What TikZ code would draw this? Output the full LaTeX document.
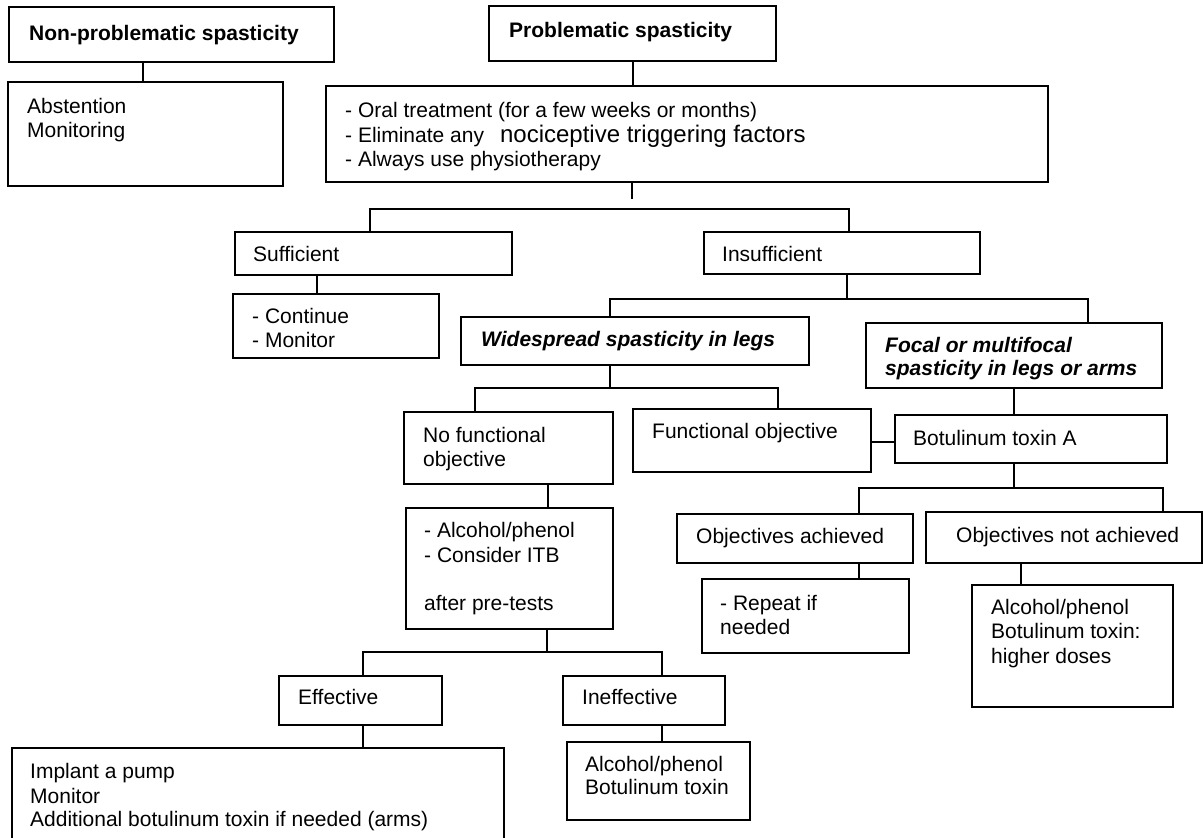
\documentclass[tikz,border=0pt]{standalone}
\usepackage{fontspec}
\setmainfont{Liberation Sans}
\begin{document}
\begin{tikzpicture}[x=1pt,y=-1pt,
  bx/.style={draw=black, line width=1.6pt, inner sep=0pt, fill=none},
  tx/.style={inner sep=0pt, anchor=base west, font=\fontsize{21}{24}\selectfont},
  tb/.style={tx, font=\fontsize{21}{24}\selectfont\bfseries},
  tbi/.style={tx, font=\fontsize{21}{24}\selectfont\bfseries\itshape},
  ln/.style={draw=black, line width=1.6pt}]
\fill[white] (0,0) rectangle (1203,838);
\useasboundingbox (0,0) rectangle (1203,838);
\newcommand\mybox[5]{\node[bx, minimum width={(#4-#2)*1pt}, minimum height={(#5-#3)*1pt}] (#1) at ({(#2+#4)/2},{(#3+#5)/2}) {};}
% boxes
\mybox{np}{9}{7}{334}{62}
\mybox{prob}{489}{6}{776}{61}
\mybox{abst}{8}{82}{283}{186}
\mybox{oral}{326}{86}{1048}{182}
\mybox{suff}{235}{232}{512}{275}
\mybox{insuf}{704}{232}{980}{274}
\mybox{cont}{233}{294}{439}{358}
\mybox{wide}{461}{317}{809}{365}
\mybox{focal}{866}{323}{1162}{388}
\mybox{nofunc}{404}{412}{613}{484}
\mybox{func}{633}{409}{871}{472}
\mybox{botA}{895}{415}{1167}{463}
\mybox{itb}{406}{508}{613}{629}
\mybox{achv}{677}{514}{913}{563}
\mybox{notachv}{926}{512}{1202}{563}
\mybox{rep}{702}{579}{909}{653}
\mybox{higher}{972}{585}{1173}{707}
\mybox{eff}{279}{676}{442}{725}
\mybox{ineff}{563}{676}{725}{725}
\mybox{implant}{12}{748}{504}{850}
\mybox{albot}{567}{742}{750}{820}
% texts
\node[tb] (t-np) at (29,40) {Non-problematic spasticity};
\node[tb] (t-prob) at (509,37) {Problematic spasticity};
\node[tx] (t-abst1) at (27,113) {Abstention};
\node[tx] (t-abst2) at (27,137) {Monitoring};
\node[tx] (t-oral1) at (345,117) {- Oral treatment (for a few weeks or months)};
\node[tx] (t-oral2) at (345,142) {- Eliminate any\hspace{16pt}{\fontsize{24}{28}\selectfont nociceptive triggering factors}};
\node[tx] (t-oral3) at (345,166) {- Always use physiotherapy};
\node[tx] (t-suff) at (253,261) {Sufficient};
\node[tx] (t-insuf) at (722,261) {Insufficient};
\node[tx] (t-cont1) at (252,323) {- Continue};
\node[tx] (t-cont2) at (252,347) {- Monitor};
\node[tbi] (t-wide) at (481,346) {Widespread spasticity in legs};
\node[tbi] (t-focal1) at (885,352) {Focal or multifocal};
\node[tbi] (t-focal2) at (885,375) {spasticity in legs or arms};
\node[tx] (t-nofunc1) at (423,442) {No functional};
\node[tx] (t-nofunc2) at (423,466) {objective};
\node[tx] (t-func) at (652,438) {Functional objective};
\node[tx] (t-botA) at (913,445) {Botulinum toxin A};
\node[tx] (t-itb1) at (424,537) {- Alcohol/phenol};
\node[tx] (t-itb2) at (424,562) {- Consider ITB};
\node[tx] (t-itb3) at (424,610) {after pre-tests};
\node[tx] (t-achv) at (696,543) {Objectives achieved};
\node[tx] (t-notachv) at (956,542) {Objectives not achieved};
\node[tx] (t-rep1) at (720,610) {- Repeat if};
\node[tx] (t-rep2) at (720,634) {needed};
\node[tx] (t-hi1) at (991,614) {Alcohol/phenol};
\node[tx] (t-hi2) at (991,638) {Botulinum toxin:};
\node[tx] (t-hi3) at (991,663) {higher doses};
\node[tx] (t-eff) at (298,704) {Effective};
\node[tx] (t-ineff) at (582,704) {Ineffective};
\node[tx] (t-imp1) at (30,778) {Implant a pump};
\node[tx] (t-imp2) at (30,803) {Monitor};
\node[tx] (t-imp3) at (30,826) {Additional botulinum toxin if needed (arms)};
\node[tx] (t-ab1) at (585,771) {Alcohol/phenol};
\node[tx] (t-ab2) at (585,794) {Botulinum toxin};
% connector coordinates
\coordinate (c1) at (143,0);
\coordinate (c2) at (633,0);
\coordinate (c3) at (632,199);
\coordinate (j1) at (370,209);
\coordinate (j2) at (849,209);
\coordinate (c4) at (317,0);
\coordinate (c5) at (847,299);
\coordinate (j3) at (610,299);
\coordinate (j4) at (1088,299);
\coordinate (c6) at (610,388);
\coordinate (j5) at (475,388);
\coordinate (j6) at (778,388);
\coordinate (c7) at (0,442);
\coordinate (c8) at (1014,0);
\coordinate (j7) at (859,488);
\coordinate (j8) at (1163,488);
\coordinate (c11) at (1021,0);
\coordinate (c12) at (548,0);
\coordinate (c13) at (547,652);
\coordinate (j9) at (363,652);
\coordinate (j10) at (662,652);
% connectors
\draw[ln] (c1 |- np.south) -- (c1 |- abst.north);
\draw[ln] (c2 |- prob.south) -- (c2 |- oral.north);
\draw[ln] (c3 |- oral.south) -- (c3);
\draw[ln] (j1 |- suff.north) -- (j1) -- (j2) -- (j2 |- insuf.north);
\draw[ln] (c4 |- suff.south) -- (c4 |- cont.north);
\draw[ln] (c5 |- insuf.south) -- (c5);
\draw[ln] (j3 |- wide.north) -- (j3) -- (j4) -- (j4 |- focal.north);
\draw[ln] (c6 |- wide.south) -- (c6);
\draw[ln] (j5 |- nofunc.north) -- (j5) -- (j6) -- (j6 |- func.north);
\draw[ln] (func.east |- c7) -- (botA.west |- c7);
\draw[ln] (c8 |- focal.south) -- (c8 |- botA.north);
\draw[ln] (c8 |- botA.south) -- (c8 |- j7);
\draw[ln] (j7 |- achv.north) -- (j7) -- (j8) -- (j8 |- notachv.north);
\draw[ln] (j7 |- achv.south) -- (j7 |- rep.north);
\draw[ln] (c11 |- notachv.south) -- (c11 |- higher.north);
\draw[ln] (c12 |- nofunc.south) -- (c12 |- itb.north);
\draw[ln] (c13 |- itb.south) -- (c13);
\draw[ln] (j9 |- eff.north) -- (j9) -- (j10) -- (j10 |- ineff.north);
\draw[ln] (j9 |- eff.south) -- (j9 |- implant.north);
\draw[ln] (j10 |- ineff.south) -- (j10 |- albot.north);
\end{tikzpicture}
\end{document}
